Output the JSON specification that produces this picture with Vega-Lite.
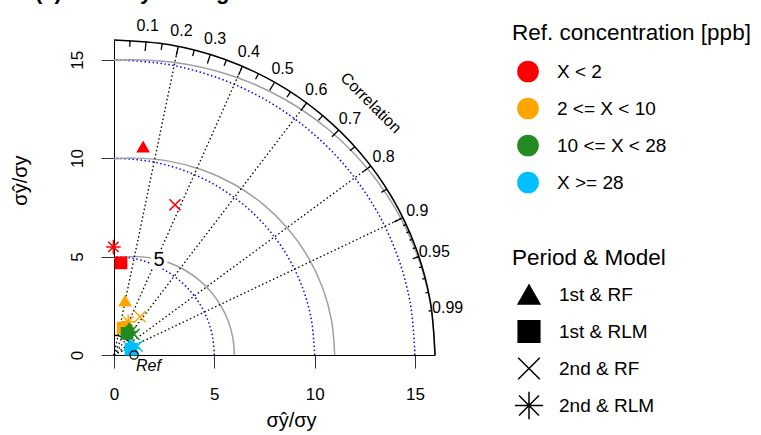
{
  "$schema": "https://vega.github.io/schema/vega-lite/v6.json",
  "width": 321,
  "height": 315,
  "autosize": "none",
  "padding": {"left": 114, "top": 40, "right": 326, "bottom": 80},
  "title": {"text": "(a) Monthly average", "anchor": "start", "frame": "group", "fontSize": 22, "fontWeight": "bold", "baseline": "alphabetic", "offset": 8, "dx": -79, "dy": 11, "color": "black"},
  "config": {
    "view": {"stroke": null},
    "font": "Liberation Sans",
    "axis": {"labelColor": "black", "titleColor": "black", "labelFont": "Liberation Sans", "titleFont": "Liberation Sans"},
    "legend": {"titleColor": "black", "labelColor": "black", "titleFont": "Liberation Sans", "labelFont": "Liberation Sans", "titleLimit": 400, "labelLimit": 300}
  },
  "datasets": {
    "arcs": [
      {"a":"b5","i":0,"x":5,"y":0},{"a":"b5","i":1,"x":4.924,"y":0.868},{"a":"b5","i":2,"x":4.698,"y":1.71},{"a":"b5","i":3,"x":4.33,"y":2.5},{"a":"b5","i":4,"x":3.83,"y":3.214},{"a":"b5","i":5,"x":3.214,"y":3.83},{"a":"b5","i":6,"x":2.5,"y":4.33},{"a":"b5","i":7,"x":1.71,"y":4.698},{"a":"b5","i":8,"x":0.868,"y":4.924},{"a":"b5","i":9,"x":0,"y":5},
      {"a":"b10","i":0,"x":10,"y":0},{"a":"b10","i":1,"x":9.848,"y":1.736},{"a":"b10","i":2,"x":9.397,"y":3.42},{"a":"b10","i":3,"x":8.66,"y":5},{"a":"b10","i":4,"x":7.66,"y":6.428},{"a":"b10","i":5,"x":6.428,"y":7.66},{"a":"b10","i":6,"x":5,"y":8.66},{"a":"b10","i":7,"x":3.42,"y":9.397},{"a":"b10","i":8,"x":1.736,"y":9.848},{"a":"b10","i":9,"x":0,"y":10},
      {"a":"b15","i":0,"x":15,"y":0},{"a":"b15","i":1,"x":14.772,"y":2.605},{"a":"b15","i":2,"x":14.095,"y":5.13},{"a":"b15","i":3,"x":12.99,"y":7.5},{"a":"b15","i":4,"x":11.491,"y":9.642},{"a":"b15","i":5,"x":9.642,"y":11.491},{"a":"b15","i":6,"x":7.5,"y":12.99},{"a":"b15","i":7,"x":5.13,"y":14.095},{"a":"b15","i":8,"x":2.605,"y":14.772},{"a":"b15","i":9,"x":0,"y":15}
    ],
    "gray": [
      {"a":"g5","i":0,"x":6,"y":0},{"a":"g5","i":1,"x":5.924,"y":0.868},{"a":"g5","i":2,"x":5.698,"y":1.71},{"a":"g5","i":3,"x":5.33,"y":2.5},{"a":"g5","i":4,"x":4.83,"y":3.214},{"a":"g5","i":5,"x":4.214,"y":3.83},{"a":"g5","i":6,"x":3.5,"y":4.33},{"a":"g5","i":7,"x":2.71,"y":4.698},{"a":"g5","i":8,"x":1.868,"y":4.924},{"a":"g5","i":9,"x":1,"y":5},{"a":"g5","i":10,"x":0.132,"y":4.924},{"a":"g5","i":11,"x":0,"y":4.899},
      {"a":"g10","i":0,"x":11,"y":0},{"a":"g10","i":1,"x":10.848,"y":1.736},{"a":"g10","i":2,"x":10.397,"y":3.42},{"a":"g10","i":3,"x":9.66,"y":5},{"a":"g10","i":4,"x":8.66,"y":6.428},{"a":"g10","i":5,"x":7.428,"y":7.66},{"a":"g10","i":6,"x":6,"y":8.66},{"a":"g10","i":7,"x":4.42,"y":9.397},{"a":"g10","i":8,"x":2.736,"y":9.848},{"a":"g10","i":9,"x":1,"y":10},{"a":"g10","i":10,"x":0,"y":9.95},
      {"a":"g15","i":0,"x":16,"y":0},{"a":"g15","i":1,"x":15.772,"y":2.605},{"a":"g15","i":2,"x":15.095,"y":5.13},{"a":"g15","i":3,"x":13.99,"y":7.5},{"a":"g15","i":4,"x":12.491,"y":9.642},{"a":"g15","i":5,"x":10.642,"y":11.491},{"a":"g15","i":6,"x":8.5,"y":12.99},{"a":"g15","i":7,"x":6.13,"y":14.095},{"a":"g15","i":8,"x":3.605,"y":14.772},{"a":"g15","i":9,"x":1,"y":15},{"a":"g15","i":10,"x":0,"y":14.967}
    ],
    "black": [
      {"a":"o16","i":0,"x":16,"y":0},{"a":"o16","i":1,"x":15.757,"y":2.778},{"a":"o16","i":2,"x":15.035,"y":5.472},{"a":"o16","i":3,"x":13.856,"y":8},{"a":"o16","i":4,"x":12.257,"y":10.285},{"a":"o16","i":5,"x":10.285,"y":12.257},{"a":"o16","i":6,"x":8,"y":13.856},{"a":"o16","i":7,"x":5.472,"y":15.035},{"a":"o16","i":8,"x":2.778,"y":15.757},{"a":"o16","i":9,"x":0,"y":16},
      {"a":"r1","i":0,"x":1,"y":0},{"a":"r1","i":1,"x":0.985,"y":0.174},{"a":"r1","i":2,"x":0.94,"y":0.342},{"a":"r1","i":3,"x":0.866,"y":0.5},{"a":"r1","i":4,"x":0.766,"y":0.643},{"a":"r1","i":5,"x":0.643,"y":0.766},{"a":"r1","i":6,"x":0.5,"y":0.866},{"a":"r1","i":7,"x":0.342,"y":0.94},{"a":"r1","i":8,"x":0.174,"y":0.985},{"a":"r1","i":9,"x":0,"y":1}
    ],
    "corr": [
      {"x":0,"y":0,"x2":3.2,"y2":15.677},
      {"x":0,"y":0,"x2":6.4,"y2":14.664},
      {"x":0,"y":0,"x2":9.6,"y2":12.8},
      {"x":0,"y":0,"x2":12.8,"y2":9.6},
      {"x":0,"y":0,"x2":14.4,"y2":6.974}
    ],
    "ticks": [
      {"x":1.552,"y":15.443,"x2":1.6,"y2":15.92},{"x":3.104,"y":15.206,"x2":3.2,"y2":15.677},{"x":4.656,"y":14.805,"x2":4.8,"y2":15.263},{"x":6.208,"y":14.224,"x2":6.4,"y2":14.664},{"x":7.76,"y":13.441,"x2":8,"y2":13.856},{"x":9.312,"y":12.416,"x2":9.6,"y2":12.8},{"x":10.864,"y":11.083,"x2":11.2,"y2":11.426},{"x":12.416,"y":9.312,"x2":12.8,"y2":9.6},{"x":13.968,"y":6.765,"x2":14.4,"y2":6.974},
      {"x":0.784,"y":15.66,"x2":0.8,"y2":15.98},{"x":2.352,"y":15.503,"x2":2.4,"y2":15.819},{"x":3.92,"y":15.182,"x2":4,"y2":15.492},{"x":5.488,"y":14.688,"x2":5.6,"y2":14.988},{"x":7.056,"y":14.003,"x2":7.2,"y2":14.288},{"x":8.624,"y":13.095,"x2":8.8,"y2":13.363},{"x":10.192,"y":11.916,"x2":10.4,"y2":12.159},{"x":11.76,"y":10.371,"x2":12,"y2":10.583},{"x":13.328,"y":8.26,"x2":13.6,"y2":8.428},{"x":14.896,"y":4.896,"x2":15.2,"y2":4.996},
      {"x":14.414,"y":6.567,"x2":14.56,"y2":6.634},{"x":14.573,"y":6.208,"x2":14.72,"y2":6.271},{"x":14.731,"y":5.822,"x2":14.88,"y2":5.881},{"x":14.89,"y":5.404,"x2":15.04,"y2":5.459},{"x":15.048,"y":4.946,"x2":15.2,"y2":4.996},{"x":15.206,"y":4.435,"x2":15.36,"y2":4.48},{"x":15.365,"y":3.851,"x2":15.52,"y2":3.89},{"x":15.523,"y":3.152,"x2":15.68,"y2":3.184},{"x":15.682,"y":2.235,"x2":15.84,"y2":2.257}
    ],
    "corrLabels": [
      {"x":1.68,"y":16.716,"label":"0.1"},{"x":3.36,"y":16.461,"label":"0.2"},{"x":5.04,"y":16.026,"label":"0.3"},{"x":6.72,"y":15.398,"label":"0.4"},{"x":8.4,"y":14.549,"label":"0.5"},{"x":10.08,"y":13.44,"label":"0.6"},{"x":11.76,"y":11.998,"label":"0.7"},{"x":13.44,"y":10.08,"label":"0.8"},{"x":15.12,"y":7.323,"label":"0.9"},{"x":15.96,"y":5.246,"label":"0.95"},{"x":16.632,"y":2.37,"label":"0.99"}
    ],
    "corrTitle": [{"x":12.8,"y":12.8,"label":"Correlation"}],
    "gammaLabel": [{"x":2.24,"y":4.84,"label":"5"}],
    "ref": [{"x":1,"y":0}],
    "refLabel": [{"x":1.1,"y":-0.58,"label":"Ref"}],
    "points": [
      {"conc":"X < 2","pm":"1st & RF","x":1.45,"y":10.57},
      {"conc":"X < 2","pm":"1st & RLM","x":0.35,"y":4.68},
      {"conc":"X < 2","pm":"2nd & RF","x":3.04,"y":7.63},
      {"conc":"X < 2","pm":"2nd & RLM","x":-0.03,"y":5.49},
      {"conc":"2 <= X < 10","pm":"1st & RF","x":0.55,"y":2.75},
      {"conc":"2 <= X < 10","pm":"1st & RLM","x":0.45,"y":1.37},
      {"conc":"2 <= X < 10","pm":"2nd & RF","x":1.3,"y":1.95},
      {"conc":"2 <= X < 10","pm":"2nd & RLM","x":0.71,"y":1.69},
      {"conc":"10 <= X < 28","pm":"1st & RF","x":0.75,"y":1.35},
      {"conc":"10 <= X < 28","pm":"1st & RLM","x":0.65,"y":1.1},
      {"conc":"10 <= X < 28","pm":"2nd & RF","x":1.0,"y":1.05},
      {"conc":"10 <= X < 28","pm":"2nd & RLM","x":0.85,"y":1.2},
      {"conc":"X >= 28","pm":"1st & RF","x":0.8,"y":0.5},
      {"conc":"X >= 28","pm":"1st & RLM","x":0.85,"y":0.3},
      {"conc":"X >= 28","pm":"2nd & RF","x":1.15,"y":0.45},
      {"conc":"X >= 28","pm":"2nd & RLM","x":0.95,"y":0.35}
    ]
  },
  "encoding": {
    "x": {"field": "x", "type": "quantitative", "scale": {"domain": [0, 16], "nice": false, "zero": false},
      "axis": {"values": [0, 5, 10, 15], "title": "σŷ/σy", "grid": false, "tickSize": 13, "labelPadding": 18, "labelFontSize": 17, "titleFontSize": 20, "titleFontWeight": "normal", "titlePadding": 8, "titleX": 177, "domainColor": "black", "tickColor": "#333333", "labelFlush": false}},
    "y": {"field": "y", "type": "quantitative", "scale": {"domain": [0, 16], "nice": false, "zero": false},
      "axis": {"values": [0, 5, 10, 15], "title": "σŷ/σy", "grid": false, "tickSize": 13, "labelAngle": -90, "labelAlign": "center", "labelBaseline": "bottom", "labelPadding": 15, "labelFontSize": 17, "titleFontSize": 20, "titleFontWeight": "normal", "titlePadding": 38, "titleY": 140, "domainColor": "black", "tickColor": "#333333", "labelFlush": false}}
  },
  "layer": [
    {"data": {"name": "arcs"}, "mark": {"type": "line", "interpolate": "catmull-rom", "stroke": "#0000FF", "strokeWidth": 1.5, "strokeDash": [1.5, 2.5], "clip": false},
      "encoding": {"detail": {"field": "a"}, "order": {"field": "i", "type": "quantitative"}}},
    {"data": {"name": "gray"}, "mark": {"type": "line", "interpolate": "catmull-rom", "stroke": "#A0A0A0", "strokeWidth": 1.5, "clip": false},
      "encoding": {"detail": {"field": "a"}, "order": {"field": "i", "type": "quantitative"}}},
    {"data": {"name": "corr"}, "mark": {"type": "rule", "stroke": "black", "strokeWidth": 1.3, "strokeDash": [1.5, 2.5]},
      "encoding": {"x2": {"field": "x2"}, "y2": {"field": "y2"}}},
    {"data": {"name": "black"}, "mark": {"type": "line", "interpolate": "catmull-rom", "stroke": "black", "strokeWidth": 1.5, "clip": false},
      "encoding": {"detail": {"field": "a"}, "order": {"field": "i", "type": "quantitative"}}},
    {"data": {"name": "ticks"}, "mark": {"type": "rule", "stroke": "black", "strokeWidth": 1.3},
      "encoding": {"x2": {"field": "x2"}, "y2": {"field": "y2"}}},
    {"data": {"name": "corrLabels"}, "mark": {"type": "text", "fontSize": 16, "align": "center", "baseline": "middle", "color": "black"},
      "encoding": {"text": {"field": "label"}}},
    {"data": {"name": "corrTitle"}, "mark": {"type": "text", "fontSize": 16, "align": "center", "baseline": "middle", "angle": 45, "color": "black"},
      "encoding": {"text": {"field": "label"}}},
    {"data": {"name": "gammaLabel"}, "mark": {"type": "point", "shape": "square", "filled": true, "color": "white", "size": 280, "opacity": 1},
      "encoding": {}},
    {"data": {"name": "gammaLabel"}, "mark": {"type": "text", "fontSize": 20, "align": "center", "baseline": "middle", "color": "black"},
      "encoding": {"text": {"field": "label"}}},
    {"data": {"name": "points"}, "mark": {"type": "point", "filled": true, "size": 125, "strokeWidth": 1.5, "opacity": 1},
      "encoding": {
        "color": {"field": "conc", "type": "nominal",
          "scale": {"domain": ["X < 2", "2 <= X < 10", "10 <= X < 28", "X >= 28"], "range": ["#FF0000", "#FFA500", "#228B22", "#00BFFF"]},
          "legend": {"title": "Ref. concentration [ppb]", "orient": "none", "legendX": 398, "legendY": -18, "symbolType": "circle", "symbolSize": 470, "symbolStrokeWidth": 0, "titleFontSize": 22.5, "titleFontWeight": "normal", "labelFontSize": 19, "rowPadding": 15, "labelOffset": 18, "titlePadding": 16, "symbolOffset": 5}},
        "stroke": {"field": "conc", "type": "nominal",
          "scale": {"domain": ["X < 2", "2 <= X < 10", "10 <= X < 28", "X >= 28"], "range": ["#FF0000", "#FFA500", "#228B22", "#00BFFF"]},
          "legend": null},
        "shape": {"field": "pm", "type": "nominal",
          "scale": {"domain": ["1st & RF", "1st & RLM", "2nd & RF", "2nd & RLM"], "range": ["triangle-up", "square", "M-1,-1L1,1M-1,1L1,-1", "M-1.3,0L1.3,0M0,-1.3L0,1.3M-0.92,-0.92L0.92,0.92M-0.92,0.92L0.92,-0.92"]},
          "legend": {"title": "Period & Model", "orient": "none", "legendX": 398, "legendY": 207, "symbolSize": 470, "symbolFillColor": "black", "symbolStrokeColor": "black", "symbolStrokeWidth": 1.5, "titleFontSize": 22.5, "titleFontWeight": "normal", "labelFontSize": 19, "rowPadding": 9, "clipHeight": 28, "labelOffset": 18, "titlePadding": 11, "symbolOffset": 5,
            "encode": {"symbols": {"update": {"fill": {"value": "black"}, "stroke": {"value": "black"}}}}}}
      }},
    {"data": {"name": "ref"}, "mark": {"type": "point", "shape": "circle", "filled": false, "color": "black", "size": 70, "strokeWidth": 1.3, "opacity": 1},
      "encoding": {}},
    {"data": {"name": "refLabel"}, "mark": {"type": "text", "fontSize": 16, "fontStyle": "italic", "align": "left", "baseline": "middle", "color": "black"},
      "encoding": {"text": {"field": "label"}}}
  ]
}
